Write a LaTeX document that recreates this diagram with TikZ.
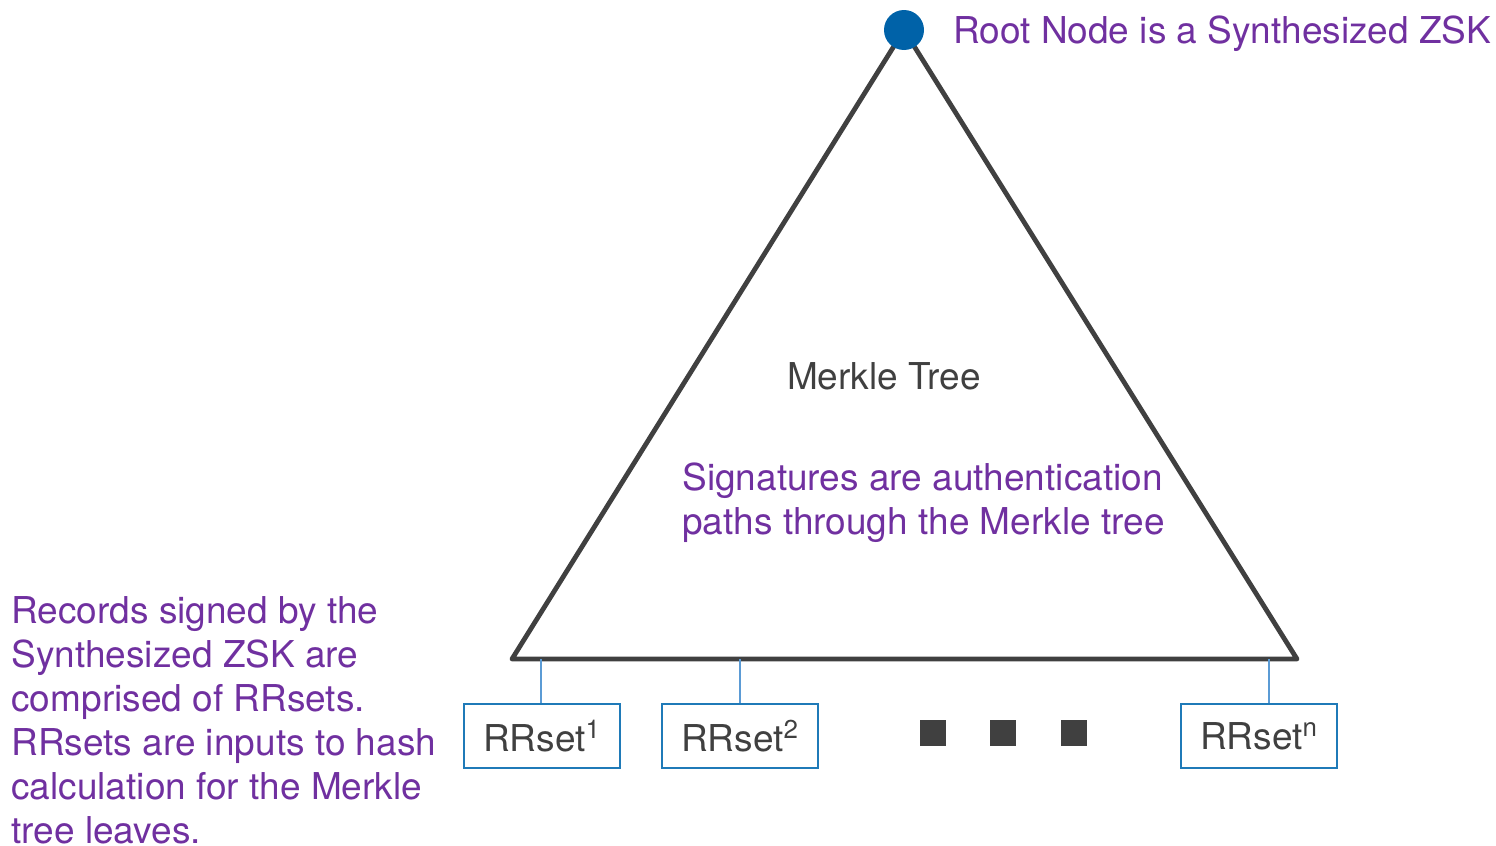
\documentclass[tikz,border=0pt]{standalone}
\usepackage{fontspec}
\setmainfont{TeX Gyre Heros}
\definecolor{dgray}{HTML}{404040}
\definecolor{mpurple}{HTML}{7030A0}
\definecolor{rootblue}{HTML}{0062A8}
\definecolor{boxblue}{HTML}{1F7AB8}
\definecolor{linkblue}{HTML}{5B9BD5}
\begin{document}
\begin{tikzpicture}[x=0.5pt,y=-0.5pt,
  txt/.style={font=\fontsize{18.5}{22}\selectfont, inner sep=0pt},
  purp/.style={txt, text=mpurple},
  rrbox/.style={draw=boxblue, line width=1pt, minimum width=78pt, minimum height=32pt, inner sep=0pt, font=\fontsize{18.5}{22}\selectfont, text=dgray},
  link/.style={draw=linkblue, line width=0.6pt},
  tri/.style={draw=dgray, line width=2.4pt, line join=round, line cap=round},
  dot/.style={fill=dgray, minimum size=13pt, inner sep=0pt}]
\useasboundingbox (0,0) rectangle (1496,846);
% triangle
\coordinate (apex) at (904,30);
\coordinate (bl) at (512,659);
\coordinate (br) at (1297,659);
\draw[tri] (apex) -- (bl) -- (br) -- cycle;
\node[circle, fill=rootblue, minimum size=20pt, inner sep=0pt] (root) at (904,30) {};
\node[purp, anchor=base west] (rootlbl) at (953,43) {Root Node is a Synthesized ZSK};
\node[txt, text=dgray, anchor=base] (mt) at (884,389) {Merkle Tree};
\node[purp, anchor=north west, align=left] (sig) at (682,462) {Signatures are authentication\\paths through the Merkle tree};
\node[purp, anchor=north west, align=left] (rec) at (11,596) {Records signed by the\\Synthesized ZSK are\\comprised of RRsets.\\RRsets are inputs to hash\\calculation for the Merkle\\tree leaves.};
% boxes
\node[rrbox] (r1) at (542,736) {RRset\textsuperscript{1}};
\node[rrbox] (r2) at (740,736) {RRset\textsuperscript{2}};
\node[rrbox] (rn) at (1259,736) {RRset\textsuperscript{n}};
\draw[link] ([xshift=-0.5pt]r1.north) -- ([xshift=-0.5pt]r1.north |- bl);
\draw[link] (r2.north) -- (r2.north |- bl);
\draw[link] ([xshift=5pt]rn.north) -- ([xshift=5pt]rn.north |- bl);
% dots
\node[dot] (d1) at (932.5,732.5) {};
\node[dot] (d2) at (1002.5,732.5) {};
\node[dot] (d3) at (1073.5,732.5) {};
\end{tikzpicture}
\end{document}
